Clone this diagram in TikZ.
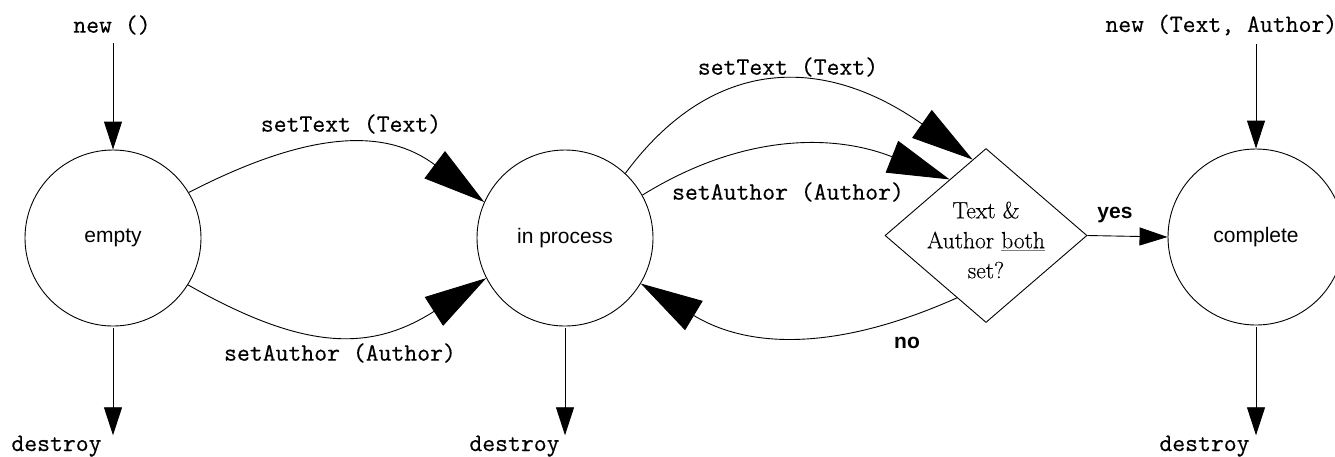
\documentclass[tikz,border=0pt]{standalone}
\usepackage{fontspec}
\newfontfamily\sansf{Liberation Sans}
\newfontfamily\codef{Latin Modern Mono}[FakeBold=0.4]
\newfontfamily\notef{Latin Modern Roman}[FakeBold=0.3]
\usetikzlibrary{arrows.meta,shapes.geometric}
\begin{document}
\begin{tikzpicture}[x=1pt,y=-1pt,line width=0.9pt,
  state/.style={circle, draw, minimum size=176pt, inner sep=0pt,
    font=\sansf\fontsize{21}{25}\selectfont},
  check/.style={diamond, draw, minimum width=202pt, minimum height=174pt, inner sep=0pt},
  code/.style={font=\codef\fontsize{25}{28}\selectfont, inner sep=0pt},
  guard/.style={font=\sansf\bfseries\fontsize{21}{25}\selectfont, inner sep=0pt},
  flow/.style={-{Triangle[length=28pt,width=18pt]}},
  call/.style={-{Triangle[length=62pt,width=34pt]}},
]
\useasboundingbox (0,0) rectangle (1335,456);

% states
\node[state] (empty) at (113,238) {empty};
\node[state] (inproc) at (565,238) {in process};
\node[state] (complete) at (1256,237) {complete};
\node[check] (check) at (986,235.5) {};
\node[font=\notef\fontsize{23.5}{30}\selectfont, align=center, inner sep=0pt] (qtext) at (986,240)
  {Text \&\\Author {\color{gray}\underline{\color{black}both}}\\set?};

% constructors and destructors
\node[code] (new0) at (112,25) {new ()};
\node[code, anchor=west] (new2) at (1105,25) {new (Text, Author)};
\node[code, anchor=base east] (gone1) at (102,451) {destroy};
\node[code, anchor=base east] (gone2) at (560,451) {destroy};
\node[code, anchor=base east] (gone3) at (1250,451) {destroy};

\draw[flow, shorten <=8pt] (new0.south -| empty.north) -- (empty.north);
\draw[flow, shorten <=8pt] (new2.south -| complete.north) -- (complete.north);
\draw[flow, shorten <=2pt] (empty.south) -- (empty.south |- gone1.north);
\draw[flow, shorten <=2pt] (inproc.south) -- (inproc.south |- gone2.north);
\draw[flow, shorten <=2pt] (complete.south) -- (complete.south |- gone3.north);

% transitions
\draw[call] (empty.31) .. controls (310,130) and (386,128) .. (inproc.156);
\draw[call] (empty.-32) .. controls (305,351.5) and (371,351.5) .. (inproc.207);
\draw[call] (inproc.47) .. controls (713,55) and (824,55) .. (check.100);
\draw[call] (inproc.29) .. controls (742,133.5) and (833,133.5) .. (check.123);
\draw[call] (check.245) .. controls (840,350) and (751,350) .. (inproc.-31);
\draw[flow] (check.east) -- (complete.west);

% labels
\node[code] (l1) at (351,124) {setText (Text)};
\node[code] (l2) at (340,353) {setAuthor (Author)};
\node[code] (l3) at (788,67) {setText (Text)};
\node[code] (l4) at (788,192) {setAuthor (Author)};
\node[guard] (yes) at (1115,215) {yes};
\node[guard] (no) at (907,343) {no};
\end{tikzpicture}
\end{document}
